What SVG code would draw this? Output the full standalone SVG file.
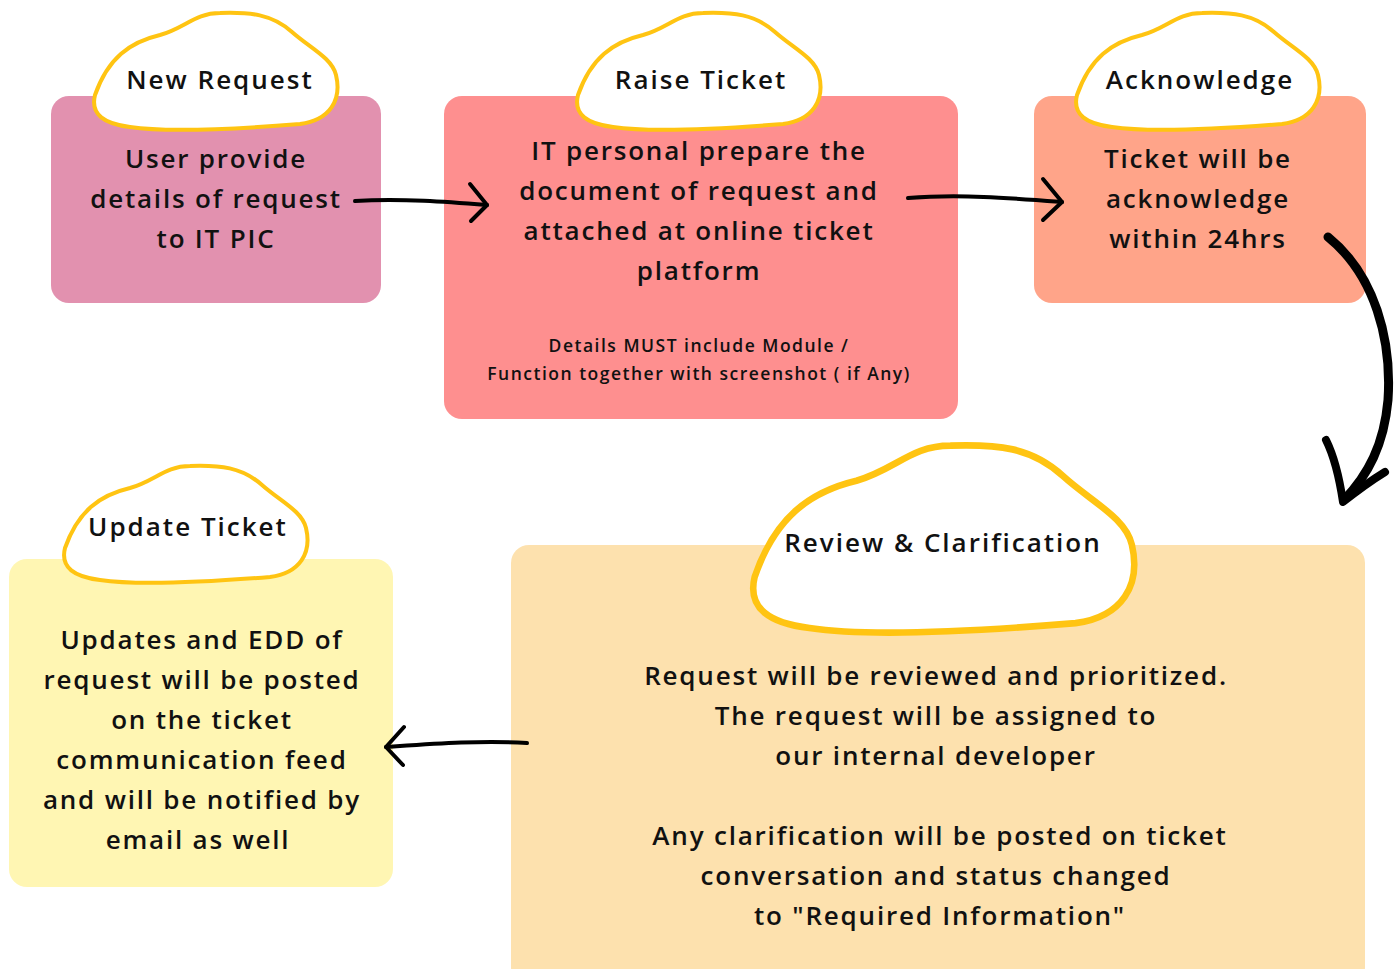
<svg xmlns="http://www.w3.org/2000/svg" width="1400" height="969" viewBox="0 0 1400 969">
<style>
text{font-family:"Open Sans","Noto Sans",sans-serif;font-weight:600;fill:#111;text-anchor:middle;letter-spacing:1.8px}
.t{font-size:26px;letter-spacing:2px}
.b{font-size:26px}
.s{font-size:17.5px;letter-spacing:1.5px}
.cloud{fill:#fff;stroke:#FFC412;stroke-width:4;stroke-linejoin:round}
.arr{fill:none;stroke:#000;stroke-width:4;stroke-linecap:round;stroke-linejoin:round}
</style>
<defs>
<path id="cl" d="M95,95 C90,115 105,124 130,127 C170,133 250,128 300,124 C330,120 342,100 336,75 C332,58 310,48 292,32 C272,14 250,12 220,13 C195,13 185,28 160,35 C130,42 108,58 95,95 Z"/>
</defs>
<rect width="1400" height="969" fill="#fff"/>

<g id="new-request">
<rect x="51" y="96" width="330" height="207" rx="18" fill="#E291AF"/>
<use href="#cl" class="cloud"/>
<text class="t" x="220" y="89">New Request</text>
<text class="b" x="216" y="168">User provide</text>
<text class="b" x="216" y="208">details of request</text>
<text class="b" x="216" y="248">to IT PIC</text>
</g>

<g id="raise-ticket">
<rect x="444" y="96" width="514" height="323" rx="18" fill="#FE8F8F"/>
<use href="#cl" class="cloud" transform="translate(483,0)"/>
<text class="t" x="701" y="89">Raise Ticket</text>
<text class="b" x="699" y="160">IT personal prepare the</text>
<text class="b" x="699" y="200">document of request and</text>
<text class="b" x="699" y="240">attached at online ticket</text>
<text class="b" x="699" y="280">platform</text>
<text class="s" x="699" y="352">Details MUST include Module /</text>
<text class="s" x="699" y="380">Function together with screenshot ( if Any)</text>
</g>

<g id="acknowledge">
<rect x="1034" y="96" width="332" height="207" rx="18" fill="#FFA489"/>
<use href="#cl" class="cloud" transform="translate(982,0)"/>
<text class="t" x="1200" y="89">Acknowledge</text>
<text class="b" x="1198" y="168">Ticket will be</text>
<text class="b" x="1198" y="208">acknowledge</text>
<text class="b" x="1198" y="248">within 24hrs</text>
</g>

<g id="review">
<rect x="511" y="545" width="854" height="440" rx="18" fill="#FDE1AE"/>
<use href="#cl" class="cloud" style="stroke-width:4.2" transform="translate(750,444) scale(1.565,1.6) translate(-92,-12)"/>
<text class="t" x="943" y="552">Review &amp; Clarification</text>
<text class="b" x="936" y="685">Request will be reviewed and prioritized.</text>
<text class="b" x="936" y="725">The request will be assigned to</text>
<text class="b" x="936" y="765">our internal developer</text>
<text class="b" x="940" y="845">Any clarification will be posted on ticket</text>
<text class="b" x="936" y="885">conversation and status changed</text>
<text class="b" x="940" y="925">to "Required Information"</text>
</g>

<g id="update-ticket">
<rect x="9" y="559" width="384" height="328" rx="18" fill="#FFF6B3"/>
<use href="#cl" class="cloud" transform="translate(-30,453)"/>
<text class="t" x="188" y="536">Update Ticket</text>
<text class="b" x="202" y="649">Updates and EDD of</text>
<text class="b" x="202" y="689">request will be posted</text>
<text class="b" x="202" y="729">on the ticket</text>
<text class="b" x="202" y="769">communication feed</text>
<text class="b" x="202" y="809">and will be notified by</text>
<text class="b" x="198" y="849">email as well</text>
</g>

<g id="connectors">
<path class="arr" d="M355,201 C400,198 450,202 487,205"/>
<path class="arr" d="M470,184 L487,205 L471,221"/>
<path class="arr" d="M908,198 C960,194 1010,198 1062,202"/>
<path class="arr" d="M1043,179 L1062,202 L1043,220"/>
<path class="arr" style="stroke-width:9" d="M1328,237 C1375,275 1392,340 1388,400 C1384,445 1368,475 1344,500"/>
<path class="arr" style="stroke-width:8" d="M1326,440 C1336,460 1340,482 1343,502 C1358,490 1372,480 1385,472"/>
<path class="arr" d="M527,743 C480,740 430,744 386,747"/>
<path class="arr" d="M404,727 L386,747 L403,765"/>
</g>
</svg>
